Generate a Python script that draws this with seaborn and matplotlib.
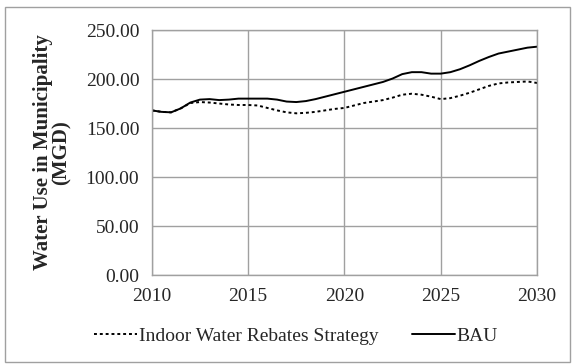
import numpy as np
import pandas as pd
import matplotlib
matplotlib.use("Agg")
import matplotlib.pyplot as plt
import matplotlib.patches as patches
import seaborn as sns

years = [2010.0, 2010.5, 2011.0, 2011.5, 2012.0, 2012.5, 2013.0, 2013.5, 2014.0, 2014.5,
         2015.0, 2015.5, 2016.0, 2016.5, 2017.0, 2017.5, 2018.0, 2018.5, 2019.0, 2019.5,
         2020.0, 2020.5, 2021.0, 2021.5, 2022.0, 2022.5, 2023.0, 2023.5, 2024.0, 2024.5,
         2025.0, 2025.5, 2026.0, 2026.5, 2027.0, 2027.5, 2028.0, 2028.5, 2029.0, 2029.5,
         2030.0]

bau = [168, 166.5, 166, 170, 176, 179, 179.5, 178.5, 179, 180,
       180, 180, 180, 179, 177, 176.5, 177.5, 179.5, 182, 184.5,
       187, 189.5, 192, 194.5, 197, 200.5, 205, 207, 207, 205.5,
       205.5, 207, 210, 214, 218.5, 222.5, 226, 228, 230, 232,
       233]

rebates = [168, 166.5, 166, 170, 175.5, 176.5, 176, 175, 174, 173.5,
           173.5, 173, 170.5, 168, 166, 165, 165.5, 166.5, 168, 169.5,
           170.5, 173, 175.5, 177, 178.5, 181, 184, 185, 184, 182,
           179.5, 180.5, 183, 186, 189.5, 193, 195.5, 196.5, 197, 197.5,
           196]

series_names = ["Indoor Water Rebates Strategy", "BAU"]
y_ticks = [0, 50, 100, 150, 200, 250]
x_ticks = [2010, 2015, 2020, 2025, 2030]

df = pd.DataFrame({
    "Year": years * 2,
    "Water Use": rebates + bau,
    "Scenario": [series_names[0]] * len(years) + [series_names[1]] * len(years),
})

sns.set_style("white")
plt.rcParams["font.family"] = ["Liberation Serif", "DejaVu Serif"]

fig = plt.figure(figsize=(5.75, 3.64), dpi=100)
ax = fig.add_axes([0.264, 0.2445, 0.67, 0.673])

sns.lineplot(data=df, x="Year", y="Water Use", hue="Scenario", style="Scenario",
             palette={series_names[0]: "black", series_names[1]: "black"},
             dashes={series_names[0]: (1.5, 1.5), series_names[1]: ""},
             linewidth=1.4, ax=ax)

ax.set_xlim(2010, 2030)
ax.set_ylim(0, 250)
ax.set_xticks(x_ticks)
ax.set_yticks(y_ticks)
ax.set_yticklabels([f"{v:.2f}" for v in y_ticks])
ax.grid(True, color="#a0a0a0", linewidth=1.0)
for s in ax.spines.values():
    s.set_color("#a0a0a0")
    s.set_linewidth(1.0)
ax.tick_params(axis="both", direction="out", length=4, width=1.0, color="#a0a0a0",
               labelsize=14, pad=5)
ax.tick_params(axis="y", pad=5)
ax.set_xlabel("")
ax.set_ylabel("Water Use in Municipality\n(MGD)", fontsize=15, fontweight="bold",
              linespacing=0.9, labelpad=10)

ax.legend(loc="center", bbox_to_anchor=(0.515, 0.077), bbox_transform=fig.transFigure,
          ncol=2, frameon=False, fontsize=14, handlelength=2.2, handletextpad=0.1,
          columnspacing=1.7)

fig.patches.append(patches.Rectangle((5 / 575, 2 / 364), 565 / 575, 355 / 364,
                                     transform=fig.transFigure, fill=False,
                                     edgecolor="#a0a0a0", linewidth=1.0))

fig.savefig("out.png", dpi=100)
